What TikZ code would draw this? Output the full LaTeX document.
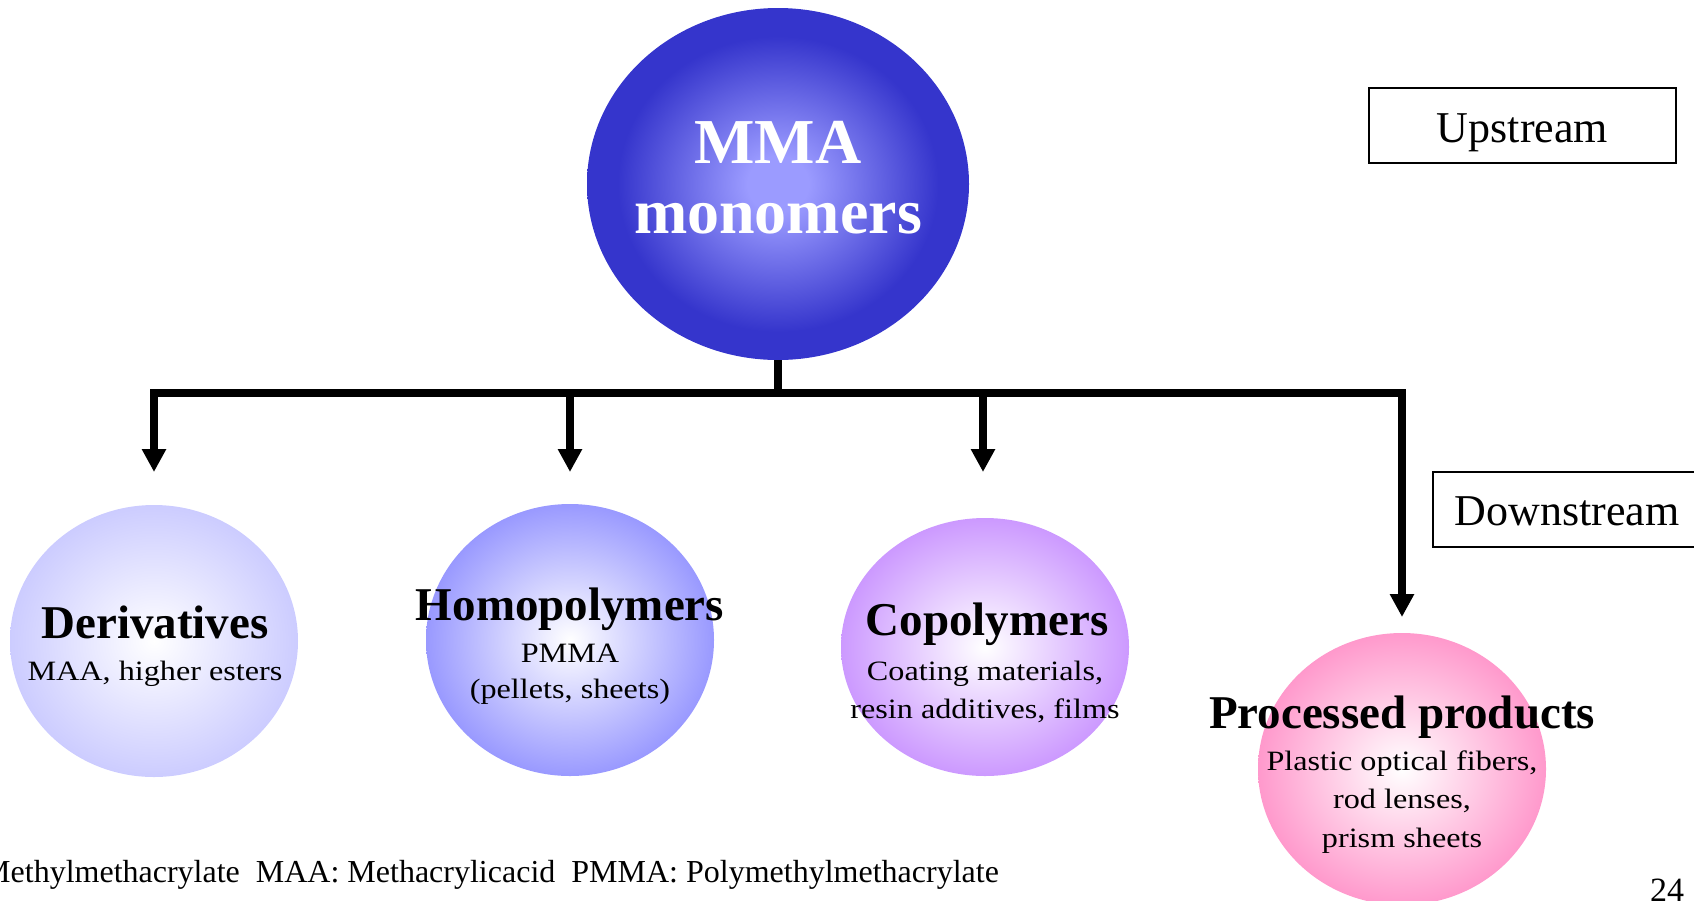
\documentclass[tikz,border=0pt]{standalone}
\usepackage{fontspec}
\setmainfont{Liberation Serif}
\newfontfamily\bodyfont{Liberation Serif}[FakeStretch=1.15]
\usetikzlibrary{shapes.geometric,arrows.meta}
\definecolor{mmaout}{RGB}{53,53,204}
\definecolor{mmain}{RGB}{155,155,255}
\definecolor{derout}{RGB}{204,204,255}
\definecolor{homout}{RGB}{153,153,255}
\definecolor{copout}{RGB}{204,153,255}
\definecolor{proout}{RGB}{255,153,204}
\pgfdeclareradialshading{mmashade}{\pgfpoint{0bp}{0bp}}{color(0bp)=(mmain); color(4bp)=(mmain); color(21bp)=(mmaout); color(50bp)=(mmaout)}
\begin{document}
\begin{tikzpicture}[x=1pt,y=-1pt,
  blob/.style={ellipse, inner sep=0pt, draw=none},
  conn/.style={line width=8pt, line join=miter},
  tip/.style={-{Triangle[width=23pt,length=23pt]}},
  ttl/.style={anchor=base, inner sep=0pt, font=\fontsize{47}{50}\selectfont\bfseries},
  bdy/.style={anchor=base, inner sep=0pt, font=\bodyfont\fontsize{28}{32}\selectfont},
  tagbox/.style={draw, line width=2pt, inner sep=0pt, text depth=0pt, font=\fontsize{44}{48}\selectfont},
  small/.style={anchor=base west, inner sep=0pt, font=\fontsize{32}{36}\selectfont}]
\useasboundingbox (0,0) rectangle (1694,900);

% shapes
\node[blob, shade, shading=mmashade, minimum width=382pt, minimum height=352pt] (mma) at (778,184) {};
\node[blob, inner color=white, outer color=derout, minimum width=288pt, minimum height=272pt] (der) at (154,641) {};
\node[blob, inner color=white, outer color=homout, minimum width=288pt, minimum height=272pt] (hom) at (570,640) {};
\node[blob, inner color=white, outer color=copout, minimum width=288pt, minimum height=258pt] (cop) at (985,647) {};
\node[blob, inner color=white, outer color=proout, minimum width=288pt, minimum height=272pt] (pro) at (1402,769) {};

% connectors
\coordinate (j) at (778,393);
\coordinate (ta) at (154,472);
\coordinate (tb) at (570,472);
\coordinate (tc) at (983,472);
\coordinate (td) at (1402,617);
\draw[conn] (mma.south) -- (j);
\draw[conn,tip] (j) -| (ta);
\draw[conn,tip] (j) -| (td);
\draw[conn,tip] (tb |- j) -- (tb);
\draw[conn,tip] (tc |- j) -- (tc);

% texts
\node[ttl, text=white, font=\fontsize{64}{68}\selectfont\bfseries] (mma1) at (778,163) {MMA};
\node[ttl, text=white, font=\fontsize{64}{68}\selectfont\bfseries] (mma2) at (778,233) {monomers};

\node[ttl] (der1) at (155,638) {Derivatives};
\node[bdy] (der2) at (155,680) {MAA, higher esters};

\node[ttl] (hom1) at (570,620) {Homopolymers};
\node[bdy] (hom2) at (570,662) {PMMA};
\node[bdy] (hom3) at (570,698) {(pellets, sheets)};

\node[ttl] (cop1) at (987,635) {Copolymers};
\node[bdy] (cop2) at (985,680) {Coating materials,};
\node[bdy] (cop3) at (985,718) {resin additives, films};

\node[ttl] (pro1) at (1402,728) {Processed products};
\node[bdy] (pro2) at (1402,770) {Plastic optical fibers,};
\node[bdy] (pro3) at (1402,808) {rod lenses,};
\node[bdy] (pro4) at (1402,847) {prism sheets};

\node[tagbox, minimum width=307pt, minimum height=75pt, text height=33pt] (up) at (1522.5,125.5) {Upstream};
\node[tagbox, minimum width=268pt, minimum height=75pt, text height=31pt] (down) at (1567,509.5) {Downstream};

\node[small] (note) at (-18,882) {Methylmethacrylate\ \ MAA: Methacrylicacid\ \ PMMA: Polymethylmethacrylate};
\node[small, font=\fontsize{34}{38}\selectfont] (pg) at (1650,901) {24};
\end{tikzpicture}
\end{document}
